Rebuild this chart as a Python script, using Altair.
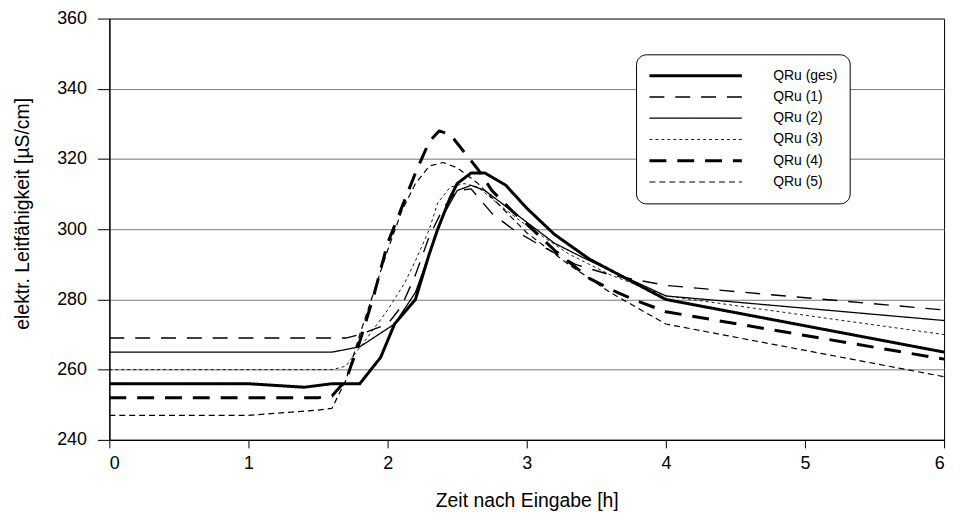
import altair as alt
import pandas as pd

series_names = ["QRu (ges)", "QRu (1)", "QRu (2)", "QRu (3)", "QRu (4)", "QRu (5)"]

# QRu (ges)
ges_x = [0, 1.0, 1.4, 1.6, 1.8, 1.95, 2.05, 2.2, 2.3, 2.36, 2.45, 2.5, 2.6, 2.7, 2.85, 3.0, 3.2, 3.45, 4.0, 6.0]
ges_y = [256, 256, 255, 256, 256, 263.5, 273, 280, 293, 300, 309, 313, 316, 316, 312.5, 306, 298.5, 291.5, 280, 265]

# QRu (1)
q1_x = [0, 1.7, 1.8, 2.0, 2.1, 2.2, 2.3, 2.4, 2.5, 2.6, 2.75, 2.9, 3.05, 3.35, 3.6, 4.0, 6.0]
q1_y = [269, 269, 270, 273, 278, 287, 298, 306, 311, 311.5, 304.5, 300, 296.5, 290, 287, 284, 277]

# QRu (2)
q2_x = [0, 1.6, 1.8, 2.05, 2.2, 2.3, 2.4, 2.5, 2.6, 2.7, 3.0, 3.2, 3.4, 4.0, 6.0]
q2_y = [265, 265, 266.5, 273, 282, 293, 304, 311, 312.5, 311, 302, 296, 292, 281, 274]

# QRu (3)
q3_x = [0, 1.6, 1.7, 1.88, 2.0, 2.12, 2.2, 2.3, 2.36, 2.45, 2.55, 2.65, 2.8, 3.0, 3.3, 3.6, 4.0, 6.0]
q3_y = [260, 260, 261, 270.5, 277, 284.5, 291, 300, 307.5, 312, 313, 312, 307, 301, 293, 287, 281, 270]

# QRu (4)
q4_x = [0, 1.5, 1.6, 1.7, 1.8, 1.9, 2.0, 2.1, 2.2, 2.3, 2.37, 2.45, 2.55, 2.65, 2.75, 2.9, 3.0, 3.2, 3.45, 3.65, 3.8, 4.0, 6.0]
q4_y = [252, 252, 252.5, 257, 268, 281, 296, 306, 316, 325, 328, 327, 322, 317, 311, 305, 301.5, 294, 286, 282, 279.5, 276.5, 263]

# QRu (5)
q5_x = [0, 1.0, 1.5, 1.6, 1.7, 1.8, 1.9, 2.0, 2.1, 2.2, 2.3, 2.4, 2.5, 2.65, 2.8, 3.0, 3.3, 3.6, 4.0, 6.0]
q5_y = [247, 247, 248.5, 249, 257, 270, 282, 294, 305, 313, 318, 319, 317.5, 313, 307, 299, 290, 282, 273, 258]

xs = [ges_x, q1_x, q2_x, q3_x, q4_x, q5_x]
ys = [ges_y, q1_y, q2_y, q3_y, q4_y, q5_y]

rows = []
for name, xv, yv in zip(series_names, xs, ys):
    for a, b in zip(xv, yv):
        rows.append({"series": name, "t": a, "v": b})
df = pd.DataFrame(rows)

dash_range = [[1, 0], [15, 11], [1, 0], [3, 3], [17, 11], [6, 4]]
width_range = [3, 1.4, 1.3, 0.9, 3, 1.2]

x_ticks = [0, 1, 2, 3, 4, 5, 6]
y_ticks = [240, 260, 280, 300, 320, 340, 360]

font = "Liberation Sans"

chart = alt.Chart(df).mark_line(color="black", strokeCap="butt", strokeJoin="round").encode(
    x=alt.X("t:Q", scale=alt.Scale(domain=[0, 6], nice=False),
            axis=alt.Axis(values=x_ticks, title="Zeit nach Eingabe [h]", grid=False,
                          tickSize=8, labelPadding=7, titlePadding=19, format="d")),
    y=alt.Y("v:Q", scale=alt.Scale(domain=[240, 360], nice=False, zero=False),
            axis=alt.Axis(values=y_ticks, title="elektr. Leitfähigkeit [µS/cm]", grid=True,
                          tickSize=12, labelPadding=11, titlePadding=24, titleY=196)),
    strokeDash=alt.StrokeDash("series:N", scale=alt.Scale(type="ordinal", domain=series_names, range=dash_range),
                              sort=series_names, legend=alt.Legend(title=None)),
    strokeWidth=alt.StrokeWidth("series:N", scale=alt.Scale(type="ordinal", domain=series_names, range=width_range),
                                sort=series_names, legend=alt.Legend(title=None)),
).properties(
    width=840, height=424,
    autosize=alt.AutoSizeParams(type="none"),
    padding={"left": 102, "top": 9, "right": 15, "bottom": 80},
).configure_view(
    stroke="black", strokeWidth=1
).configure_axis(
    labelFont=font, titleFont=font, labelFontSize=18, titleFontSize=19.5,
    labelColor="black", titleColor="black", titleFontWeight="normal",
    domainColor="black", tickColor="black", gridColor="#777777", gridWidth=1,
    domainWidth=1.2,
).configure_legend(
    orient="none", legendX=530, legendY=36,
    fillColor="white", strokeColor="black", cornerRadius=10, padding=12,
    symbolType="stroke", symbolSize=8649, symbolStrokeColor="black",
    clipHeight=19, rowPadding=2.4, labelOffset=30,
    labelFont=font, labelFontSize=14, labelColor="black",
)

chart.save("out.html", embed_options={"renderer": "svg", "actions": False})
